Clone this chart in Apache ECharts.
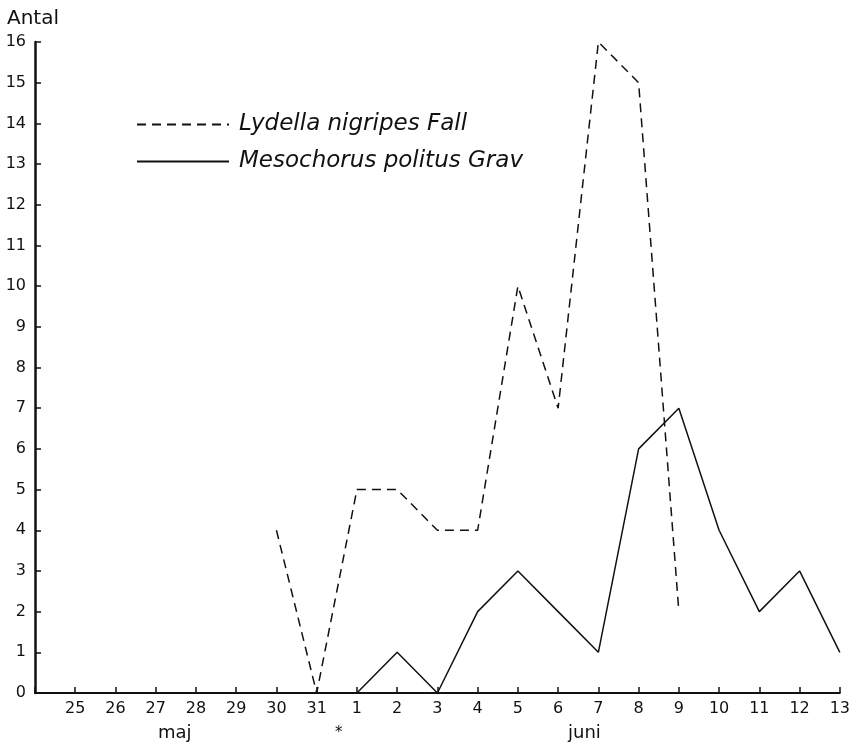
<!DOCTYPE html>
<html><head><meta charset="utf-8">
<script src="https://cdn.jsdelivr.net/npm/echarts@6/dist/echarts.min.js"></script>
<style>html,body{margin:0;padding:0;background:#fff}#c{width:853px;height:746px}</style>
</head><body><div id="c"></div>
<script>
const days = ["", "25","26","27","28","29","30","31","1","2","3","4","5","6","7","8","9","10","11","12","13"];
const lydella = [null,null,null,null,null,null,4,0,5,5,4,4,10,7,16,15,2,null,null,null,null];
const mesochorus = [null,null,null,null,null,null,null,null,0,1,0,2,3,2,1,6,7,4,2,3,1];
const yTicks = [0,16,1];
const fontF = "'DejaVu Sans', sans-serif";
const chart = echarts.init(document.getElementById('c'));
chart.setOption({
  backgroundColor:'#fff',
  animation:false,
  grid:{left:35,right:8,top:42,bottom:53},
  legend:{
    orient:'vertical', left:131, top:108, itemGap:14, itemWidth:92, itemHeight:22,
    itemStyle:{opacity:0},
    textStyle:{fontFamily:fontF, fontStyle:'italic', fontSize:23, color:'#111', padding:[0,0,0,5]},
    data:['Lydella nigripes Fall','Mesochorus politus Grav']
  },
  xAxis:{
    type:'category', data:days, boundaryGap:false,
    axisLine:{lineStyle:{color:'#111',width:2}},
    axisTick:{inside:true,length:6,lineStyle:{color:'#111',width:1.5}},
    axisLabel:{fontFamily:fontF,fontSize:16,color:'#111',margin:8,interval:0},
    splitLine:{show:false}
  },
  yAxis:{
    type:'value', min:yTicks[0], max:yTicks[1], interval:yTicks[2],
    name:'Antal', nameLocation:'end', nameGap:13,
    nameTextStyle:{fontFamily:fontF,fontSize:20,color:'#111',align:'left',padding:[0,0,0,-28]},
    axisLine:{show:true,lineStyle:{color:'#111',width:2.5}},
    axisTick:{show:true,inside:true,length:6,lineStyle:{color:'#111',width:1.5}},
    axisLabel:{fontFamily:fontF,fontSize:16,color:'#111',margin:9},
    splitLine:{show:false}
  },
  series:[
    {name:'Lydella nigripes Fall',type:'line',data:lydella,symbol:'none',
     lineStyle:{color:'#111',width:1.5,type:[9,6]},itemStyle:{color:'#111'}},
    {name:'Mesochorus politus Grav',type:'line',data:mesochorus,symbol:'none',
     lineStyle:{color:'#111',width:1.5},itemStyle:{color:'#111'}}
  ],
  graphic:[
    {type:'text',left:158,top:724,style:{text:'maj',fontFamily:fontF,fontSize:18,fill:'#111'}},
    {type:'text',left:335,top:726,style:{text:'*',fontFamily:fontF,fontSize:15,fill:'#111'}},
    {type:'text',left:568,top:724,style:{text:'juni',fontFamily:fontF,fontSize:18,fill:'#111'}}
  ]
});
</script></body></html>
